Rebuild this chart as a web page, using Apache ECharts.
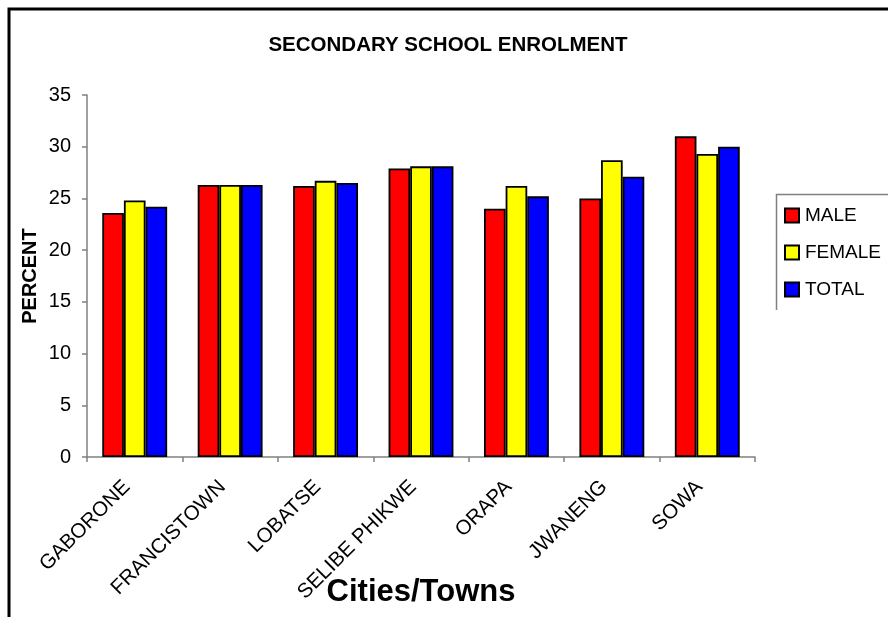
<!DOCTYPE html>
<html>
<head>
<meta charset="utf-8">
<script src="https://cdn.jsdelivr.net/npm/echarts@6/dist/echarts.min.js"></script>
<style>
html,body{margin:0;padding:0;background:#fff;}
#chart{width:888px;height:617px;}
</style>
</head>
<body>
<div id="chart"></div>
<script>
var categories = ['GABORONE', 'FRANCISTOWN', 'LOBATSE', 'SELIBE PHIKWE', 'ORAPA', 'JWANENG', 'SOWA'];
var male = [23.6, 26.3, 26.2, 27.9, 24.0, 25.0, 31.0];
var female = [24.8, 26.3, 26.7, 28.1, 26.2, 28.7, 29.3];
var total = [24.2, 26.3, 26.5, 28.1, 25.2, 27.1, 30.0];
var seriesNames = ['MALE', 'FEMALE', 'TOTAL'];
var yTicks = {min: 0, max: 35, interval: 5};

var FONT = '"Liberation Sans", Arial, sans-serif';
var chart = echarts.init(document.getElementById('chart'), null, {renderer: 'canvas'});

function barSeries(name, data, color) {
  return {
    name: name,
    type: 'bar',
    data: data,
    barGap: '0%',
    barCategoryGap: '32%',
    itemStyle: {color: color, borderColor: '#000', borderWidth: 1.8},
    emphasis: {disabled: true}
  };
}

chart.setOption({
  animation: false,
  backgroundColor: '#fff',
  title: {
    text: 'SECONDARY SCHOOL ENROLMENT',
    left: 443,
    textAlign: 'center',
    top: 30,
    textStyle: {fontFamily: FONT, fontSize: 20.5, fontWeight: 'bold', color: '#000'}
  },
  legend: {
    orient: 'vertical',
    left: 779,
    top: 201,
    itemWidth: 14,
    itemHeight: 14,
    itemGap: 18,
    icon: 'rect',
    data: seriesNames,
    textStyle: {fontFamily: FONT, fontSize: 19, color: '#000', padding: [0, 0, 0, 1]}
  },
  grid: {left: 87, right: 133, top: 95, bottom: 160, containLabel: false, outerBoundsMode: 'none'},
  xAxis: {
    type: 'category',
    data: categories,
    name: 'Cities/Towns',
    nameLocation: 'middle',
    nameGap: 120,
    nameMoveOverlap: false,
    nameTextStyle: {fontFamily: FONT, fontSize: 31, fontWeight: 'bold', color: '#000'},
    axisLine: {lineStyle: {color: '#808080', width: 1.5}},
    axisTick: {show: true, length: 5, lineStyle: {color: '#808080', width: 1.5}},
    axisLabel: {rotate: 45, interval: 0, margin: 19, padding: [0, 11, 0, 0], fontFamily: FONT, fontSize: 20.5, color: '#000'},
    splitLine: {show: false}
  },
  yAxis: {
    type: 'value',
    min: yTicks.min,
    max: yTicks.max,
    interval: yTicks.interval,
    name: 'PERCENT',
    nameLocation: 'middle',
    nameGap: 47,
    nameMoveOverlap: false,
    nameTextStyle: {fontFamily: FONT, fontSize: 20, fontWeight: 'bold', color: '#000'},
    axisLine: {show: true, lineStyle: {color: '#808080', width: 1.5}},
    axisTick: {show: true, length: 5, lineStyle: {color: '#808080', width: 1.5}},
    axisLabel: {margin: 16, fontFamily: FONT, fontSize: 20, color: '#000'},
    splitLine: {show: false}
  },
  series: [
    barSeries(seriesNames[0], male, '#FF0000'),
    barSeries(seriesNames[1], female, '#FFFF00'),
    barSeries(seriesNames[2], total, '#0000FF')
  ],
  graphic: [
    {type: 'rect', silent: true, z: -1, shape: {x: 9, y: 9, width: 1000, height: 1000}, style: {fill: null, stroke: '#000', lineWidth: 3}},
    {type: 'polyline', silent: true, shape: {points: [[776.5, 310], [776.5, 194.5], [900, 194.5]]}, style: {fill: null, stroke: '#808080', lineWidth: 1.5}}
  ]
});
</script>
</body>
</html>
